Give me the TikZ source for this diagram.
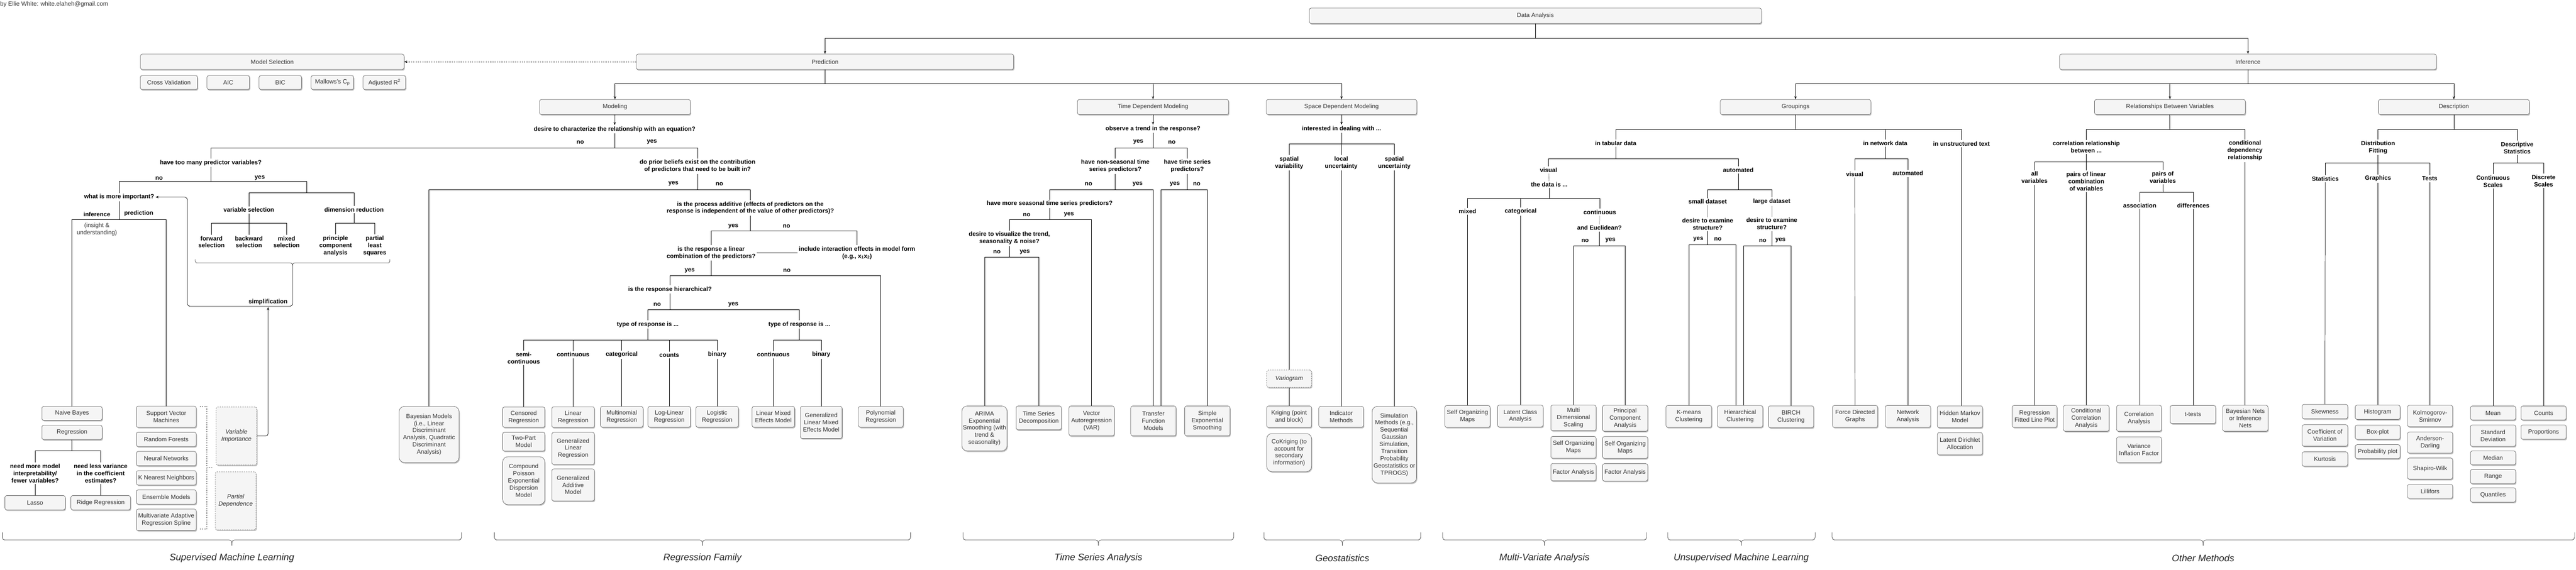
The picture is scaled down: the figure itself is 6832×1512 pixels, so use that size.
\documentclass[tikz,border=0pt]{standalone}
\usepackage{fontspec}
\setmainfont{Liberation Sans}
\usepackage{tikz}
\usetikzlibrary{positioning,arrows.meta,shadows}

\definecolor{boxfill}{HTML}{F5F5F5}
\definecolor{boxline}{HTML}{666666}
\definecolor{boxtext}{HTML}{333333}

\begin{document}
\begin{tikzpicture}[x=1pt, y=-1pt, line width=1pt,
		leaf/.style={rectangle, rounded corners=5pt, draw=boxline, fill=boxfill, text=boxtext, align=center, inner sep=1pt, font=\fontsize{16}{19}\selectfont, drop shadow={shadow xshift=2pt, shadow yshift=-3pt, fill=black, opacity=0.25}},
		bigleaf/.style={leaf, rounded corners=14pt},
		dleaf/.style={leaf, dashed, font=\fontsize{16}{19}\selectfont\itshape},
		ask/.style={align=center, inner sep=3pt, font=\fontsize{16}{19}\selectfont\bfseries},
		plain/.style={align=center, inner sep=3pt, text=boxtext, font=\fontsize{16}{19}\selectfont},
		grp/.style={font=\fontsize{25}{30}\selectfont\itshape, text=black!85},
		arr/.style={-{Stealth[length=8pt, width=6pt]}},
		soft/.style={draw=black!45},
		bracepath/.style={draw=black!75, rounded corners=7pt},
	]
	\useasboundingbox (0,0) rectangle (6832,1512);

	%Nodes
	\node[plain, anchor=west, inner sep=0pt] (author) at (0,12) {by Ellie White: white.elaheh@gmail.com};

	\node[leaf, minimum width=1199pt, minimum height=41pt] (analysis) at (4072,42) {Data Analysis};
	\node[leaf, minimum width=1001pt, minimum height=41pt] (prediction) at (2188,164) {Prediction};
	\node[leaf, minimum width=999pt, minimum height=41pt] (inference) at (5962,164) {Inference};
	\node[leaf, minimum width=699pt, minimum height=41pt] (modelsel) at (722,164) {Model Selection};
	\node[leaf, minimum width=152pt, minimum height=37pt] (cv) at (448,219) {Cross Validation};
	\node[leaf, minimum width=113pt, minimum height=37pt, right=24pt of cv] (aic) {AIC};
	\node[leaf, minimum width=113pt, minimum height=37pt, right=24pt of aic] (bic) {BIC};
	\node[leaf, minimum width=113pt, minimum height=37pt, right=24pt of bic] (mallows) {Mallows's C\textsubscript{p}};
	\node[leaf, minimum width=113pt, minimum height=37pt, right=24pt of mallows] (adjr) {Adjusted R\textsuperscript{2}};

	\node[leaf, minimum width=400pt, minimum height=40pt] (modeling) at (1631,284) {Modeling};
	\node[leaf, minimum width=401pt, minimum height=40pt] (timedep) at (3058,284) {Time Dependent Modeling};
	\node[leaf, minimum width=399pt, minimum height=40pt] (spacedep) at (3558,284) {Space Dependent Modeling};
	\node[leaf, minimum width=399pt, minimum height=40pt] (groupings) at (4762,284) {Groupings};
	\node[leaf, minimum width=400pt, minimum height=40pt] (relations) at (5755,284) {Relationships Between Variables};
	\node[leaf, minimum width=400pt, minimum height=40pt] (description) at (6508,284) {Description};

	% modeling questions
	\node[ask] (equation) at (1630,343) {desire to characterize the relationship with an equation?};
	\node[ask] (eqno) at (1539,377) {no};
	\node[ask] (eqyes) at (1729,377) {yes};
	\node[ask] (toomany) at (559,432) {have too many predictor variables?};
	\node[ask] (tmno) at (422,473) {no};
	\node[ask] (tmyes) at (689,472) {yes};
	\node[ask] (important) at (316,523) {what is more important?};
	\node[ask] (infer) at (257,569) {inference};
	\node[ask] (predict) at (368,567) {prediction};
	\node[plain] (insight) at (257,609) {(insight \&\\understanding)};
	\node[ask] (varsel) at (660,557) {variable selection};
	\node[ask] (dimred) at (939,556) {dimension reduction};
	\node[ask] (fwd) at (561,642) {forward\\selection};
	\node[ask] (bwd) at (660,642) {backward\\selection};
	\node[ask] (mixsel) at (760,642) {mixed\\selection};
	\node[ask] (pcr) at (890,652) {principle\\component\\analysis};
	\node[ask] (pls) at (994,652) {partial\\least\\squares};
	\node[ask, anchor=east] (simplify) at (766,802) {simplification};

	% supervised learning
	\node[leaf, minimum width=160pt, minimum height=37pt] (naive) at (191,1097) {Naive Bayes};
	\node[leaf, minimum width=160pt, minimum height=38pt, below=12pt of naive] (regr) {Regression};
	\node[ask] (interp) at (93,1256) {need more model\\interpretability/\\fewer variables?};
	\node[ask] (lessvar) at (267,1256) {need less variance\\in the coefficient\\estimates?};
	\node[leaf, minimum width=160pt, minimum height=38pt] (lasso) at (93,1334) {Lasso};
	\node[leaf, minimum width=158pt, minimum height=38pt] (ridge) at (267,1334) {Ridge Regression};
	\node[leaf, minimum width=159pt, minimum height=56pt] (svm) at (441,1106) {Support Vector\\Machines};
	\node[leaf, minimum width=159pt, minimum height=38pt, below=12pt of svm] (forest) {Random Forests};
	\node[leaf, minimum width=159pt, minimum height=38pt, below=12pt of forest] (neural) {Neural Networks};
	\node[leaf, minimum width=159pt, minimum height=38pt, below=12pt of neural] (knn) {K Nearest Neighbors};
	\node[leaf, minimum width=159pt, minimum height=38pt, below=12pt of knn] (ensemble) {Ensemble Models};
	\node[leaf, minimum width=159pt, minimum height=57pt, below=12pt of ensemble] (mars) {Multivariate Adaptive\\Regression Spline};
	\node[dleaf, minimum width=108pt, minimum height=154pt] (varimp) at (627,1157) {Variable\\Importance};
	\node[dleaf, minimum width=108pt, minimum height=154pt] (pardep) at (625,1329) {Partial\\Dependence};
	\node[bigleaf, minimum width=159pt, minimum height=149pt] (bayes) at (1138,1153) {Bayesian Models\\(i.e., Linear\\Discriminant\\Analysis, Quadratic\\Discriminant\\Analysis)};

	% regression family
	\node[ask] (prior) at (1850,441) {do prior beliefs exist on the contribution\\of predictors that need to be built in?};
	\node[ask] (pryes) at (1786,487) {yes};
	\node[ask] (prno) at (1908,489) {no};
	\node[ask] (additive) at (1990,552) {is the process additive (effects of predictors on the\\response is independent of the value of other predictors)?};
	\node[ask] (adyes) at (1945,600) {yes};
	\node[ask] (adno) at (2086,600) {no};
	\node[ask] (linear) at (1886,671) {is the response a linear\\combination of the predictors?};
	\node[ask] (interact) at (2273,671) {include interaction effects in model form\\(e.g., x\textsubscript{1}x\textsubscript{2})};
	\node[ask] (linyes) at (1829,718) {yes};
	\node[ask] (linno) at (2087,718) {no};
	\node[ask] (hier) at (1777,768) {is the response hierarchical?};
	\node[ask] (hino) at (1743,808) {no};
	\node[ask] (hiyes) at (1945,808) {yes};
	\node[ask] (typeflat) at (1718,861) {type of response is ...};
	\node[ask] (typemix) at (2120,861) {type of response is ...};
	\node[ask] (semicont) at (1389,950) {semi-\\continuous};
	\node[ask] (contA) at (1520,941) {continuous};
	\node[ask] (categA) at (1649,941) {categorical};
	\node[ask] (countsA) at (1775,942) {counts};
	\node[ask] (binA) at (1902,941) {binary};
	\node[ask] (contB) at (2051,941) {continuous};
	\node[ask] (binB) at (2178,941) {binary};

	\node[leaf, minimum width=112pt, minimum height=54pt] (censored) at (1389,1107) {Censored\\Regression};
	\node[leaf, minimum width=112pt, minimum height=50pt, below=12pt of censored] (twopart) {Two-Part\\Model};
	\node[bigleaf, minimum width=112pt, minimum height=127pt, below=14pt of twopart] (cpoisson) {Compound\\Poisson\\Exponential\\Dispersion\\Model};
	\node[leaf, minimum width=113pt, minimum height=55pt] (linreg) at (1520,1107) {Linear\\Regression};
	\node[leaf, minimum width=113pt, minimum height=85pt, below=12pt of linreg] (glm) {Generalized\\Linear\\Regression};
	\node[leaf, minimum width=113pt, minimum height=85pt, below=11pt of glm] (gam) {Generalized\\Additive\\Model};
	\node[leaf, minimum width=113pt, minimum height=55pt] (multinom) at (1649,1106) {Multinomial\\Regression};
	\node[leaf, minimum width=113pt, minimum height=55pt] (loglin) at (1775,1106) {Log-Linear\\Regression};
	\node[leaf, minimum width=113pt, minimum height=55pt] (logistic) at (1902,1106) {Logistic\\Regression};
	\node[leaf, minimum width=113pt, minimum height=55pt] (lme) at (2051,1106) {Linear Mixed\\Effects Model};
	\node[leaf, minimum width=111pt, minimum height=85pt] (glmm) at (2178,1121) {Generalized\\Linear Mixed\\Effects Model};
	\node[leaf, minimum width=119pt, minimum height=55pt] (polyreg) at (2336,1106) {Polynomial\\Regression};

	% time series
	\node[ask] (trend) at (3058,342) {observe a trend in the response?};
	\node[ask] (trendyes) at (3019,377) {yes};
	\node[ask] (trendno) at (3108,378) {no};
	\node[ask] (nonseas) at (2958,441) {have non-seasonal time\\series predictors?};
	\node[ask] (tspred) at (3149,441) {have time series\\predictors?};
	\node[ask] (nsno) at (2887,489) {no};
	\node[ask] (nsyes) at (3017,488) {yes};
	\node[ask] (tsyes) at (3116,488) {yes};
	\node[ask] (tsno) at (3174,488) {no};
	\node[ask] (seasonal) at (2784,541) {have more seasonal time series predictors?};
	\node[ask] (seno) at (2723,570) {no};
	\node[ask] (seyes) at (2835,569) {yes};
	\node[ask] (visualize) at (2677,632) {desire to visualize the trend,\\seasonality \& noise?};
	\node[ask] (vino) at (2644,669) {no};
	\node[ask] (viyes) at (2718,669) {yes};

	\node[bigleaf, minimum width=120pt, minimum height=119pt] (arima) at (2611,1137) {ARIMA\\Exponential\\Smoothing (with\\trend \&\\seasonality)};
	\node[leaf, minimum width=120pt, minimum height=63pt] (tsdecomp) at (2755,1109) {Time Series\\Decomposition};
	\node[leaf, minimum width=120pt, minimum height=79pt] (varmod) at (2895,1117) {Vector\\Autoregression\\(VAR)};
	\node[leaf, minimum width=120pt, minimum height=79pt] (transfer) at (3059,1117) {Transfer\\Function\\Models};
	\node[leaf, minimum width=120pt, minimum height=79pt] (ses) at (3202,1117) {Simple\\Exponential\\Smoothing};

	% geostatistics
	\node[ask] (deal) at (3558,342) {interested in dealing with ...};
	\node[ask] (spvar) at (3419,432) {spatial\\variability};
	\node[ask] (locunc) at (3557,432) {local\\uncertainty};
	\node[ask] (spunc) at (3698,432) {spatial\\uncertainty};
	\node[dleaf, minimum width=119pt, minimum height=46pt] (variogram) at (3419,1005) {Variogram};
	\node[leaf, minimum width=119pt, minimum height=57pt] (kriging) at (3419,1106) {Kriging (point\\and block)};
	\node[bigleaf, minimum width=119pt, minimum height=101pt, below=15pt of kriging] (cokriging) {CoKriging (to\\account for\\secondary\\information)};
	\node[leaf, minimum width=119pt, minimum height=55pt] (indicator) at (3557,1106) {Indicator\\Methods};
	\node[bigleaf, minimum width=118pt, minimum height=203pt] (simulation) at (3698,1180) {Simulation\\Methods (e.g.,\\Sequential\\Gaussian\\Simulation,\\Transition\\Probability\\Geostatistics or\\TPROGS)};

	% groupings
	\node[ask] (tabular) at (4285,380) {in tabular data};
	\node[ask] (network) at (5000,380) {in network data};
	\node[ask] (unstruct) at (5202,381) {in unstructured text};
	\node[ask] (visualA) at (4107,451) {visual};
	\node[ask] (autoA) at (4610,451) {automated};
	\node[ask] (datais) at (4109,490) {the data is ...};
	\node[ask] (mixedA) at (3892,561) {mixed};
	\node[ask] (categB) at (4033,561) {categorical};
	\node[ask] (contC) at (4243,563) {continuous};
	\node[ask] (euclid) at (4242,605) {and Euclidean?};
	\node[ask] (euno) at (4204,638) {no};
	\node[ask] (euyes) at (4271,638) {yes};
	\node[ask] (smallds) at (4529,535) {small dataset};
	\node[ask] (largeds) at (4699,535) {large dataset};
	\node[ask] (examS) at (4529,595) {desire to examine\\structure?};
	\node[ask] (examL) at (4699,594) {desire to examine\\structure?};
	\node[ask] (exSyes) at (4504,635) {yes};
	\node[ask] (exSno) at (4556,635) {no};
	\node[ask] (exLno) at (4675,638) {no};
	\node[ask] (exLyes) at (4722,638) {yes};
	\node[ask] (visualB) at (4919,462) {visual};
	\node[ask] (autoB) at (5060,460) {automated};

	\node[leaf, minimum width=120pt, minimum height=58pt] (som1) at (3892,1105) {Self Organizing\\Maps};
	\node[leaf, minimum width=121pt, minimum height=58pt] (lca) at (4032,1104) {Latent Class\\Analysis};
	\node[leaf, minimum width=120pt, minimum height=68pt] (mds) at (4173,1109) {Multi\\Dimensional\\Scaling};
	\node[leaf, minimum width=120pt, minimum height=58pt, below=14pt of mds] (som2) {Self Organizing\\Maps};
	\node[leaf, minimum width=120pt, minimum height=46pt, below=13pt of som2] (fa1) {Factor Analysis};
	\node[leaf, minimum width=120pt, minimum height=69pt] (pcabox) at (4310,1110) {Principal\\Component\\Analysis};
	\node[leaf, minimum width=120pt, minimum height=58pt, below=13pt of pcabox] (som3) {Self Organizing\\Maps};
	\node[leaf, minimum width=120pt, minimum height=46pt, below=13pt of som3] (fa2) {Factor Analysis};
	\node[leaf, minimum width=121pt, minimum height=58pt] (kmeans) at (4479,1105) {K-means\\Clustering};
	\node[leaf, minimum width=121pt, minimum height=57pt] (hclust) at (4615,1105) {Hierarchical\\Clustering};
	\node[leaf, minimum width=120pt, minimum height=58pt] (birch) at (4750,1106) {BIRCH\\Clustering};
	\node[leaf, minimum width=120pt, minimum height=58pt] (force) at (4920,1105) {Force Directed\\Graphs};
	\node[leaf, minimum width=120pt, minimum height=58pt] (netan) at (5060,1105) {Network\\Analysis};
	\node[leaf, minimum width=120pt, minimum height=58pt] (hmm) at (5198,1106) {Hidden Markov\\Model};
	\node[leaf, minimum width=120pt, minimum height=59pt, below=12pt of hmm] (lda) {Latent Dirichlet\\Allocation};

	% relationships
	\node[ask] (corrrel) at (5533,390) {correlation relationship\\between ...};
	\node[ask] (conddep) at (5954,400) {conditional\\dependency\\relationship};
	\node[ask] (allvar) at (5396,471) {all\\variables};
	\node[ask] (pairslin) at (5533,481) {pairs of linear\\combination\\of variables};
	\node[ask] (pairsvar) at (5736,470) {pairs of\\variables};
	\node[ask] (assoc) at (5675,545) {association};
	\node[ask] (differ) at (5817,546) {differences};

	\node[leaf, minimum width=119pt, minimum height=58pt] (regfit) at (5396,1105) {Regression\\Fitted Line Plot};
	\node[leaf, minimum width=121pt, minimum height=69pt] (condcorr) at (5533,1110) {Conditional\\Correlation\\Analysis};
	\node[leaf, minimum width=119pt, minimum height=69pt] (corran) at (5673,1110) {Correlation\\Analysis};
	\node[leaf, minimum width=119pt, minimum height=68pt, below=14pt of corran] (vif) {Variance\\Inflation Factor};
	\node[leaf, minimum width=121pt, minimum height=48pt] (ttests) at (5816,1100) {t-tests};
	\node[leaf, minimum width=120pt, minimum height=69pt] (baynets) at (5955,1110) {Bayesian Nets\\or Inference\\Nets};

	% description
	\node[ask] (distfit) at (6307,391) {Distribution\\Fitting};
	\node[ask] (descstat) at (6676,392) {Descriptive\\Statistics};
	\node[ask] (statsQ) at (6167,474) {Statistics};
	\node[ask] (graphQ) at (6307,474) {Graphics};
	\node[ask] (testsQ) at (6444,474) {Tests};
	\node[ask] (contsc) at (6612,481) {Continuous\\Scales};
	\node[ask] (discsc) at (6746,480) {Discrete\\Scales};

	\node[leaf, minimum width=121pt, minimum height=38pt] (skew) at (6166,1092) {Skewness};
	\node[leaf, minimum width=121pt, minimum height=57pt, below=15pt of skew] (cov) {Coefficient of\\Variation};
	\node[leaf, minimum width=121pt, minimum height=38pt, below=14pt of cov] (kurt) {Kurtosis};
	\node[leaf, minimum width=119pt, minimum height=38pt] (hist) at (6306,1094) {Histogram};
	\node[leaf, minimum width=119pt, minimum height=38pt, below=14pt of hist] (boxplot) {Box-plot};
	\node[leaf, minimum width=119pt, minimum height=37pt, below=13pt of boxplot] (probplot) {Probability plot};
	\node[leaf, minimum width=120pt, minimum height=57pt] (ks) at (6445,1104) {Kolmogorov-\\Smirnov};
	\node[leaf, minimum width=120pt, minimum height=56pt, below=13pt of ks] (ad) {Anderson-\\Darling};
	\node[leaf, minimum width=120pt, minimum height=56pt, below=12pt of ad] (sw) {Shapiro-Wilk};
	\node[leaf, minimum width=120pt, minimum height=37pt, below=13pt of sw] (lill) {Lillifors};
	\node[leaf, minimum width=120pt, minimum height=37pt] (mean) at (6612,1096) {Mean};
	\node[leaf, minimum width=120pt, minimum height=57pt, below=12pt of mean] (sd) {Standard\\Deviation};
	\node[leaf, minimum width=120pt, minimum height=37pt, below=11pt of sd] (median) {Median};
	\node[leaf, minimum width=120pt, minimum height=38pt, below=11pt of median] (rangebox) {Range};
	\node[leaf, minimum width=120pt, minimum height=38pt, below=10pt of rangebox] (quant) {Quantiles};
	\node[leaf, minimum width=120pt, minimum height=37pt] (counts) at (6746,1096) {Counts};
	\node[leaf, minimum width=120pt, minimum height=38pt, below=12pt of counts] (props) {Proportions};

	%Lines
	\draw[arr, line width=1.6pt] (analysis) -- (analysis |- 0,102) -| (prediction);
	\draw[arr, line width=1.6pt] (analysis) -- (analysis |- 0,102) -| (inference);
	\draw[arr, dashed] (prediction) -- (modelsel);
	\draw[arr] (prediction) -- (prediction |- 0,222) -| (modeling);
	\draw[arr] (prediction) -- (prediction |- 0,222) -| (timedep);
	\draw[arr] (prediction) -- (prediction |- 0,222) -| (spacedep);
	\draw[arr] (inference) -- (inference |- 0,222) -| (groupings);
	\draw[arr] (inference) -- (inference |- 0,222) -| (relations);
	\draw[arr] (inference) -- (inference |- 0,222) -| (description);

	% modeling
	\draw[arr] (modeling) -- (equation);
	\draw (equation) -- (equation |- 0,392) -| (toomany);
	\draw (equation) -- (equation |- 0,392) -| (prior);
	\draw (toomany) -- (toomany |- 0,482) -| (important);
	\coordinate (dimsplit) at (813,511);
	\draw (toomany) -- (toomany |- 0,482) -| (dimsplit) -| (varsel);
	\draw (dimsplit) -| (dimred);
	\draw (varsel) -- (varsel |- 0,592) -| (fwd);
	\draw (varsel) -- (varsel |- 0,592) -| (mixsel);
	\draw (varsel) -- (bwd);
	\draw (dimred) -- (dimred |- 0,592) -| (pcr);
	\draw (dimred) -- (dimred |- 0,592) -| (pls);
	\draw[bracepath, rounded corners=5pt] (518,688) -- (518,698) -- (776,698) -- (776,706);
	\draw[bracepath, rounded corners=5pt] (1034,688) -- (1034,698) -- (776,698) -- (776,706);
	\coordinate (simptip) at (776,706);
	\coordinate (simpin) at (711,815);
	\draw[arr, rounded corners=8pt] (simptip) |- (497,813) |- (important);
	\draw[arr, rounded corners=6pt] (varimp) -| (simpin);

	% supervised
	\draw (important) -- (important |- 0,583) -| (naive);
	\draw (important) -- (important |- 0,583) -| (svm);
	\draw (regr) -- (regr |- 0,1196) -| (interp);
	\draw (regr) -- (regr |- 0,1196) -| (lessvar);
	\draw (interp) -- (lasso);
	\draw (lessvar) -- (ridge);
	\draw[dashed, draw=black!70] (530,1079) -| (549,1241) -- (565,1241);
	\draw[dashed, draw=black!70] (530,1404) -| (549,1241);

	% regression
	\draw (prior) -- (prior |- 0,503) -| (bayes);
	\draw (prior) -- (prior |- 0,503) -| (additive);
	\draw (additive) -- (additive |- 0,612) -| (linear);
	\draw (additive) -- (additive |- 0,612) -| (interact);
	\draw[soft, line width=2pt] (linear) -- (interact);
	\draw (linear) -- (linear |- 0,732) -| (hier);
	\draw (linear) -- (linear |- 0,732) -| (polyreg);
	\draw (hier) -- (hier |- 0,822) -| (typeflat);
	\draw (hier) -- (hier |- 0,822) -| (typemix);
	\draw (typeflat) -- (typeflat |- 0,902) -| (semicont);
	\draw (typeflat) -- (typeflat |- 0,902) -| (contA);
	\draw (typeflat) -- (typeflat |- 0,902) -| (categA);
	\draw (typeflat) -- (typeflat |- 0,902) -| (countsA);
	\draw (typeflat) -- (typeflat |- 0,902) -| (binA);
	\draw (typemix) -- (typemix |- 0,902) -| (contB);
	\draw (typemix) -- (typemix |- 0,902) -| (binB);
	\draw (semicont) -- (censored);
	\draw (contA) -- (linreg);
	\draw (categA) -- (multinom);
	\draw (countsA) -- (loglin);
	\draw (binA) -- (logistic);
	\draw (contB) -- (lme);
	\draw (binB) -- (glmm);

	% time series
	\draw[arr] (timedep) -- (trend);
	\draw (trend) -- (trend |- 0,392) -| (nonseas);
	\draw (trend) -- (trend |- 0,392) -| (tspred);
	\draw (nonseas) -- (nonseas |- 0,503) -| (seasonal);
	\draw (nonseas) -- (nonseas |- 0,503) -| (transfer);
	\draw (tspred) -- (tspred |- 0,503) -| ([xshift=20pt]transfer.north);
	\draw (tspred) -- (tspred |- 0,503) -| (ses);
	\draw (seasonal) -- (seasonal |- 0,583) -| (visualize);
	\draw (seasonal) -- (seasonal |- 0,583) -| (varmod);
	\draw (visualize) -- (visualize |- 0,682) -| (arima);
	\draw (visualize) -- (visualize |- 0,682) -| (tsdecomp);

	% geostatistics
	\draw[arr] (spacedep) -- (deal);
	\draw (deal) -- (deal |- 0,382) -| (spvar);
	\draw (deal) -- (deal |- 0,382) -| (locunc);
	\draw (deal) -- (deal |- 0,382) -| (spunc);
	\draw (spvar) -- (variogram);
	\draw (variogram) -- (kriging);
	\draw (locunc) -- (indicator);
	\draw (spunc) -- (simulation);

	% groupings
	\draw (groupings) -- (groupings |- 0,343) -| (tabular);
	\draw (groupings) -- (groupings |- 0,343) -| (network);
	\draw (groupings) -- (groupings |- 0,343) -| (unstruct);
	\draw (tabular) -- (tabular |- 0,421) -| (visualA);
	\draw (tabular) -- (tabular |- 0,421) -| (autoA);
	\draw[soft] (visualA) -- (datais);
	\draw (datais) -- (datais |- 0,526) -| (mixedA);
	\draw (datais) -- (datais |- 0,526) -| (categB);
	\draw (datais) -- (datais |- 0,526) -| (contC);
	\draw[soft] (contC) -- (euclid);
	\draw (euclid) -- (euclid |- 0,652) -| (mds);
	\draw (euclid) -- (euclid |- 0,652) -| (pcabox);
	\draw (mixedA) -- (som1);
	\draw (categB) -- (categB |- lca.north);
	\draw (autoA) -- (autoA |- 0,503) -| (smallds);
	\draw (autoA) -- (autoA |- 0,503) -| (largeds);
	\draw[soft] (smallds) -- (examS);
	\draw[soft] (largeds) -- (examL);
	\draw (examS) -- (examS |- 0,650) -| (kmeans);
	\draw (examS) -- (examS |- 0,650) -| ([xshift=-11pt]hclust.north);
	\draw (examL) -- (examL |- 0,652) -| ([xshift=10pt]hclust.north);
	\draw (examL) -- (examL |- 0,652) -| (birch);
	\draw (network) -- (network |- 0,421) -| (visualB);
	\draw (network) -- (network |- 0,421) -| (autoB);
	\draw (visualB) -- (force);
	\draw (autoB) -- (netan);
	\draw (unstruct) -- (unstruct |- hmm.north);

	% relationships
	\draw (relations) -- (relations |- 0,343) -| (corrrel);
	\draw (relations) -- (relations |- 0,343) -| (conddep);
	\draw (corrrel) -- (corrrel |- 0,430) -| (allvar);
	\draw (corrrel) -- (corrrel |- 0,430) -| (pairsvar);
	\draw (corrrel) -- (pairslin);
	\draw (pairsvar) -- (pairsvar |- 0,510) -| (assoc);
	\draw (pairsvar) -- (pairsvar |- 0,510) -| (differ);
	\draw (allvar) -- (regfit);
	\draw (pairslin) -- (condcorr);
	\draw (assoc) -- (assoc |- corran.north);
	\draw (differ) -- (differ |- ttests.north);
	\draw (conddep) -- (conddep |- baynets.north);

	% description
	\draw (description) -- (description |- 0,343) -| (distfit);
	\draw (description) -- (description |- 0,343) -| (descstat);
	\draw (distfit) -- (distfit |- 0,432) -| (statsQ);
	\draw (distfit) -- (distfit |- 0,432) -| (testsQ);
	\draw (distfit) -- (graphQ);
	\draw (descstat) -- (descstat |- 0,432) -| (contsc);
	\draw (descstat) -- (descstat |- 0,432) -| (discsc);
	\draw (statsQ) -- (skew);
	\draw (graphQ) -- (graphQ |- hist.north);
	\draw (testsQ) -- (testsQ |- ks.north);
	\draw (contsc) -- (mean);
	\draw (discsc) -- (counts);

	% families
	\foreach \xa/\xm/\xb/\nm/\lbl in {6/615/1224/supervised/Supervised Machine Learning, 1311/1863/2415/regfamily/Regression Family, 2554/2913/3272/timeseries/Time Series Analysis, 3352/3560/3768/geostat/Geostatistics, 3826/4096/4367/multivar/Multi-Variate Analysis, 4423/4618/4814/unsupervised/Unsupervised Machine Learning, 4859/5843/6828/othermeth/Other Methods}{
		\draw[bracepath] (\xa,1413) -- (\xa,1433) -- (\xm,1433) -- (\xm,1448);
		\draw[bracepath] (\xb,1413) -- (\xb,1433) -- (\xm,1433) -- (\xm,1448);
		\node[grp] (\nm) at (\xm,1481) {\lbl};
	}

\end{tikzpicture}
\end{document}
